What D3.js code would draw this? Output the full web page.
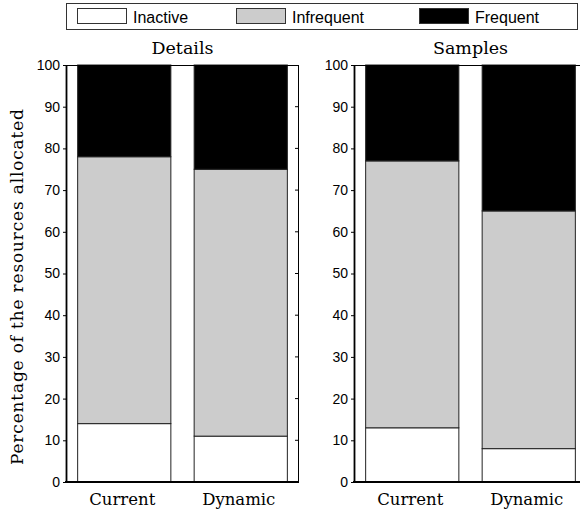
<!DOCTYPE html>
<html>
<head>
<meta charset="utf-8">
<script src="https://cdn.jsdelivr.net/npm/d3@7"></script>
<style>
  body { margin: 0; background: #fff; }
  svg { display: block; }
</style>
</head>
<body>
<div id="chart"></div>
<script>
// Chart data
const panels = ["Details", "Samples"];
const categories = ["Current", "Dynamic"];
const seriesNames = ["Inactive", "Infrequent", "Frequent"];
const seriesColors = ["#ffffff", "#cccccc", "#000000"];

// percentages per panel, one value per category
const inactive = [[14, 11], [13, 8]];
const infrequent = [[64, 64], [64, 57]];
const frequent = [[22, 25], [23, 35]];

const yTicks = [0, 10, 20, 30, 40, 50, 60, 70, 80, 90, 100];

const width = 580, height = 513;
const svg = d3.select("#chart").append("svg")
  .attr("width", width)
  .attr("height", height);

const serif = "'DejaVu Serif', serif";
const sans = "'Liberation Sans', Arial, sans-serif";

// Legend
const legend = svg.append("g");
legend.append("rect")
  .attr("x", 66.5).attr("y", 3.5)
  .attr("width", 511).attr("height", 26)
  .attr("fill", "#fff").attr("stroke", "#333").attr("stroke-width", 1);

const legendX = [77, 236, 419];
seriesNames.forEach((name, i) => {
  legend.append("rect")
    .attr("x", legendX[i] + 0.5).attr("y", 8.5)
    .attr("width", 49).attr("height", 15)
    .attr("fill", seriesColors[i])
    .attr("stroke", "#333").attr("stroke-width", 1);
  legend.append("text")
    .attr("x", legendX[i] + 56).attr("y", 23)
    .style("font-family", sans).style("font-size", "16px")
    .text(name);
});

// Shared y scale
const y = d3.scaleLinear().domain([0, 100]).range([482, 65]);

const panelLeft = [66, 354];
const panelWidth = 233;

panels.forEach((title, p) => {
  const x0 = panelLeft[p];
  const x = d3.scaleLinear().domain([0.5, 2.5]).range([x0, x0 + panelWidth]);
  const g = svg.append("g");

  // Stack segments
  const rows = categories.map((c, i) => {
    const vals = [inactive[p][i], infrequent[p][i], frequent[p][i]];
    let acc = 0;
    return vals.map((v, s) => {
      const seg = { cat: i + 1, s: s, y0: acc, y1: acc + v };
      acc += v;
      return seg;
    });
  }).flat();

  g.selectAll("rect.seg")
    .data(rows)
    .enter().append("rect")
    .attr("class", "seg")
    .attr("x", d => x(d.cat - 0.4))
    .attr("y", d => y(d.y1))
    .attr("width", d => x(d.cat + 0.4) - x(d.cat - 0.4))
    .attr("height", d => y(d.y0) - y(d.y1))
    .attr("fill", d => seriesColors[d.s])
    .attr("stroke", "#222")
    .attr("stroke-width", 1);

  // Top and right borders
  g.append("line")
    .attr("x1", x0).attr("x2", x0 + panelWidth)
    .attr("y1", 65.5).attr("y2", 65.5)
    .attr("stroke", "#000").attr("stroke-width", 1);
  g.append("line")
    .attr("x1", x0 + panelWidth - 0.5).attr("x2", x0 + panelWidth - 0.5)
    .attr("y1", 65).attr("y2", 482)
    .attr("stroke", "#000").attr("stroke-width", 1);

  // Right-side inward ticks
  g.selectAll("line.rtick")
    .data(yTicks.slice(1, -1))
    .enter().append("line")
    .attr("x1", x0 + panelWidth - 4).attr("x2", x0 + panelWidth)
    .attr("y1", d => y(d)).attr("y2", d => y(d))
    .attr("stroke", "#000");

  // Left axis
  const yAxis = g.append("g")
    .attr("transform", `translate(${x0},0)`)
    .call(d3.axisLeft(y).tickValues(yTicks).tickSize(3).tickSizeOuter(0).tickPadding(3));
  yAxis.select(".domain").attr("stroke", "#000").attr("stroke-width", 1.8);
  yAxis.selectAll("text")
    .style("font-family", sans).style("font-size", "14px").attr("fill", "#000");

  // Bottom axis line
  g.append("line")
    .attr("x1", x0 - 1).attr("x2", x0 + panelWidth)
    .attr("y1", 482).attr("y2", 482)
    .attr("stroke", "#000").attr("stroke-width", 1.8);

  // Category labels
  g.selectAll("text.cat")
    .data(categories)
    .enter().append("text")
    .attr("class", "cat")
    .attr("x", (d, i) => x(i + 1) - 2)
    .attr("y", 505)
    .attr("text-anchor", "middle")
    .style("font-family", serif).style("font-size", "16.5px")
    .text(d => d);

  // Panel title
  g.append("text")
    .attr("x", x0 + panelWidth / 2)
    .attr("y", 54)
    .attr("text-anchor", "middle")
    .style("font-family", serif).style("font-size", "17.5px")
    .text(title);
});

// Y axis label
svg.append("text")
  .attr("transform", "translate(23,287) rotate(-90)")
  .attr("text-anchor", "middle")
  .attr("textLength", 356)
  .attr("lengthAdjust", "spacing")
  .style("font-family", serif).style("font-size", "17px")
  .text("Percentage of the resources allocated");
</script>
</body>
</html>
